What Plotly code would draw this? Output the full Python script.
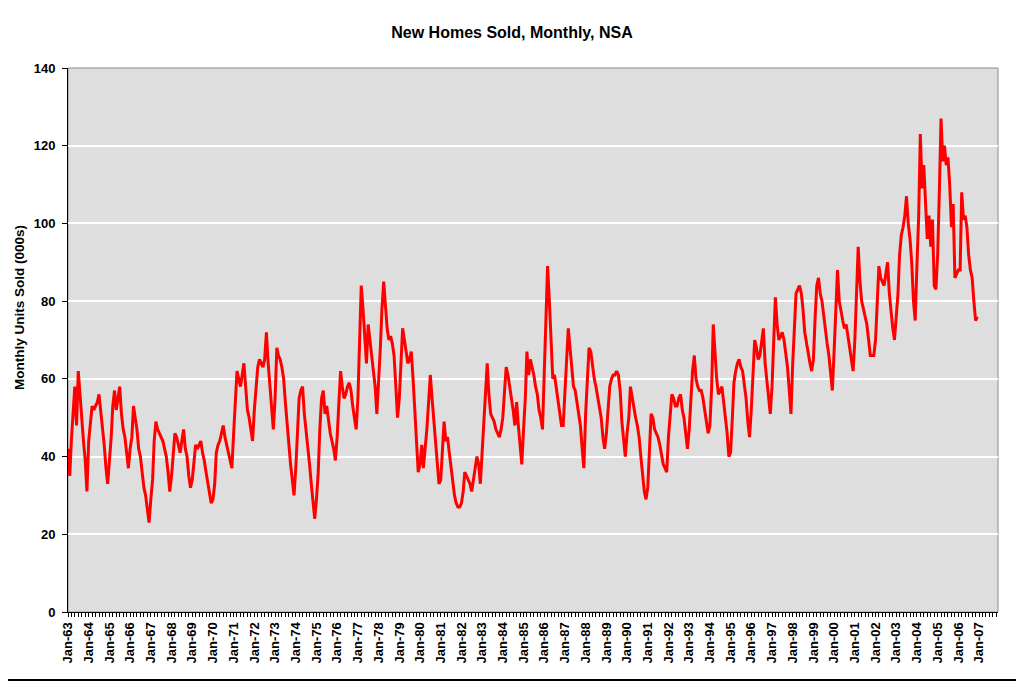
import pandas as pd
import plotly.graph_objs as go

# monthly new homes sold, not seasonally adjusted (thousands), Jan-63 .. Dec-06
sold_1960s = [42, 35, 44, 52, 58, 48, 62, 56, 49, 44, 39, 31,
              44, 48, 53, 52, 53, 54, 56, 52, 47, 43, 37, 33,
              39, 45, 53, 57, 52, 55, 58, 51, 47, 45, 40, 37,
              42, 45, 53, 50, 47, 42, 40, 36, 32, 30, 27, 23,
              29, 34, 44, 49, 47, 46, 45, 44, 42, 40, 36, 31,
              35, 40, 46, 45, 43, 41, 44, 47, 42, 40, 35, 32,
              34, 40, 43, 42, 43, 44, 41, 39, 36, 33, 30, 28]
sold_1970s = [29, 33, 41, 43, 44, 46, 48, 45, 43, 41, 39, 37,
              46, 54, 62, 60, 58, 61, 64, 58, 52, 50, 47, 44,
              52, 58, 63, 65, 64, 63, 65, 72, 64, 58, 52, 47,
              55, 68, 66, 65, 63, 60, 54, 48, 42, 38, 34, 30,
              37, 48, 55, 57, 58, 51, 47, 43, 38, 33, 28, 24,
              29, 36, 47, 55, 57, 51, 53, 49, 46, 44, 42, 39,
              45, 54, 62, 58, 55, 56, 58, 59, 57, 53, 50, 47,
              55, 70, 84, 78, 72, 64, 74, 70, 66, 62, 58, 51,
              58, 68, 78, 85, 79, 73, 70, 71, 69, 66, 58, 50,
              55, 64, 73, 70, 67, 64, 65, 67, 60, 52, 42, 36]
sold_1980s = [38, 43, 37, 42, 47, 54, 61, 55, 49, 44, 38, 33,
              34, 41, 49, 44, 45, 41, 37, 34, 30, 28, 27, 27,
              28, 31, 36, 35, 34, 33, 31, 34, 37, 40, 38, 33,
              41, 48, 55, 64, 56, 51, 50, 49, 47, 46, 45, 47,
              50, 57, 63, 61, 58, 56, 52, 48, 54, 48, 43, 38,
              47, 55, 67, 61, 65, 63, 61, 58, 56, 52, 50, 47,
              62, 72, 89, 80, 68, 60, 61, 58, 54, 52, 48, 48,
              56, 65, 73, 68, 62, 58, 57, 54, 52, 48, 42, 37,
              51, 61, 68, 67, 63, 60, 58, 55, 53, 50, 45, 42,
              46, 52, 58, 60, 61, 61, 62, 61, 57, 49, 44, 40]
sold_1990s = [46, 50, 58, 55, 52, 50, 48, 45, 40, 36, 31, 29,
              32, 42, 51, 50, 47, 46, 45, 43, 40, 38, 37, 36,
              45, 51, 56, 55, 53, 53, 55, 56, 52, 50, 45, 42,
              47, 56, 62, 66, 60, 58, 57, 57, 55, 52, 49, 46,
              48, 58, 74, 66, 60, 56, 57, 58, 54, 50, 46, 40,
              41, 50, 59, 62, 64, 65, 63, 62, 58, 55, 49, 45,
              52, 62, 70, 68, 65, 66, 70, 73, 64, 60, 56, 51,
              58, 70, 81, 74, 70, 71, 72, 70, 66, 63, 57, 51,
              64, 76, 82, 83, 84, 82, 78, 72, 69, 67, 64, 62,
              65, 76, 84, 86, 82, 80, 76, 73, 69, 66, 62, 57]
sold_2000s = [67, 78, 88, 80, 77, 75, 73, 74, 71, 68, 65, 62,
              70, 82, 94, 85, 80, 78, 76, 74, 70, 66, 66, 66,
              70, 80, 89, 86, 85, 84, 87, 90, 82, 77, 73, 70,
              76, 82, 92, 97, 99, 102, 107, 100, 96, 90, 80, 75,
              89, 102, 123, 109, 115, 105, 96, 102, 94, 101, 84, 83,
              92, 109, 127, 116, 120, 115, 117, 110, 99, 105, 86, 87,
              88, 88, 108, 101, 102, 99, 92, 88, 86, 80, 75, 76]

sold = sold_1960s + sold_1970s + sold_1980s + sold_1990s + sold_2000s
months = pd.date_range("1963-01-01", periods=len(sold), freq="MS")

font_family = "Arial, Liberation Sans, sans-serif"
x_range = ['1963-01-01', '2007-12-01']

# the page body has an 8px margin, so the figure is 8px smaller than the window
fig_w, fig_h = 1016, 674

trace = go.Scatter(x=months, y=sold, mode='lines', line=dict(color='#FF0000', width=3),
                   hoverinfo='x+y')

layout = go.Layout(
    width=fig_w, height=fig_h,
    margin=dict(l=60, r=26, t=60, b=70),
    paper_bgcolor='white', plot_bgcolor='#DEDEDE',
    showlegend=False,
    font=dict(family=font_family, color='black'),
    title=dict(text='New Homes Sold, Monthly, NSA', x=504 / fig_w, xref='container', xanchor='center',
               y=1 - 24.5 / fig_h, yref='container', yanchor='middle',
               font=dict(family=font_family, size=16, color='black', weight='bold')),
    xaxis=dict(type='date', range=x_range, tick0='1963-01-01', dtick='M12',
               tickformat='%b-%y', tickangle=-90, ticks='outside', ticklen=4, tickcolor='black',
               showline=True, linecolor='black', linewidth=1, showgrid=False, zeroline=False,
               tickfont=dict(family=font_family, size=13, color='black', weight='bold'),
               minor=dict(dtick='M2', ticks='outside', ticklen=4, tickcolor='black', showgrid=False)),
    # second copy of the category axis, only for the inner half of the crossing tick marks
    xaxis2=dict(type='date', range=x_range, overlaying='x', anchor='y', side='bottom',
                tick0='1963-01-01', dtick='M2', ticks='inside', ticklen=4, tickcolor='black',
                showticklabels=False, showline=False, showgrid=False, zeroline=False),
    yaxis=dict(range=[0, 140], dtick=20, ticks='outside', ticklen=5, tickcolor='black',
               showline=True, linecolor='black', linewidth=1, showgrid=True, gridcolor='white',
               gridwidth=1.5, zeroline=False, ticklabelstandoff=4,
               tickfont=dict(family=font_family, size=13, color='black', weight='bold')),
    annotations=[dict(text='Monthly Units Sold (000s)', textangle=-90, xref='paper', yref='paper',
                      x=(19 - 68) / 930, y=(612 - 308) / 544, showarrow=False,
                      xanchor='center', yanchor='middle',
                      font=dict(family=font_family, size=13.5, color='black', weight='bold'))],
    shapes=[dict(type='rect', xref='paper', yref='paper', x0=0, x1=1, y0=0, y1=1,
                 line=dict(color='#8C8C8C', width=1), layer='below'),
            # chart border: only the right and bottom edges fall inside the figure
            dict(type='rect', xref='paper', yref='paper',
                 x0=-0.2, x1=(1020 - 68) / 930, y0=(612 - 680) / 544, y1=1.2,
                 line=dict(color='black', width=2))],
)

fig = go.Figure([trace], layout)
fig.write_html("out.html")
